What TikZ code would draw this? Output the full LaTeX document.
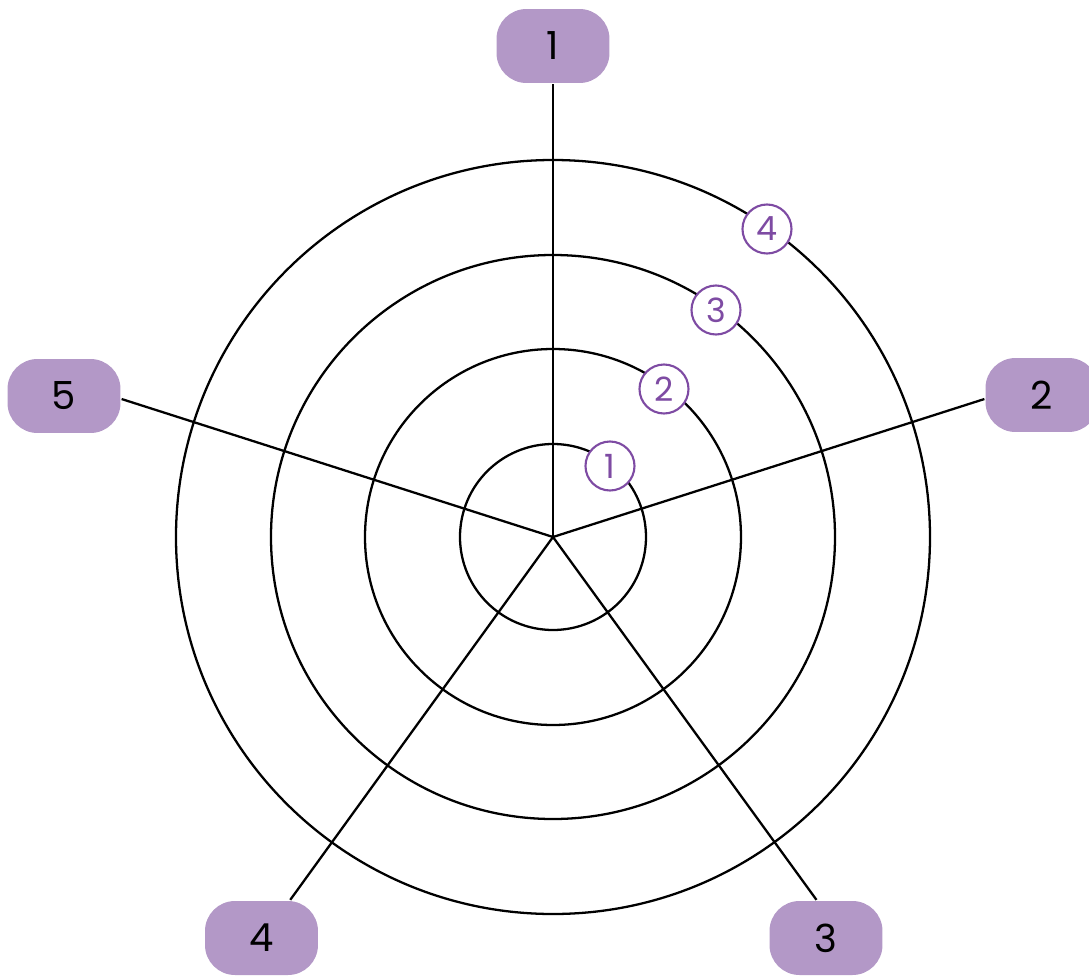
\documentclass[tikz,border=0pt]{standalone}
\usepackage{fontspec}
\setmainfont{Poppins}
\usetikzlibrary{positioning}
\definecolor{boxlilac}{HTML}{B398C7}
\definecolor{ringpurple}{HTML}{7E4BA3}
\tikzset{
  axislabel/.style={fill=boxlilac,rounded corners=0.6cm,minimum width=2.26cm,
    minimum height=1.48cm,inner sep=0pt,font=\fontsize{22}{26}\selectfont},
  levelmark/.style={circle,draw=ringpurple,fill=white,line width=1.2pt,
    minimum size=0.98cm,inner sep=0pt,text=ringpurple,
    font=\fontsize{19}{22}\selectfont}
}

\begin{document}
\begin{tikzpicture}[x=0.02cm,y=0.02cm,line width=1.3pt]
 \useasboundingbox (-553,-438) rectangle (536,537);
 \coordinate (o) at (0,0);
 % rings
 \foreach \r in {93,188,282,377}
    \draw (o) circle (\r);
 % axis labels
 \node[axislabel] (l1) at (0,491) {1};
 \node[axislabel] (l2) at (489,142) {2};
 \node[axislabel] (l3) at (273,-401) {3};
 \node[axislabel] (l4) at (-291.5,-401) {4};
 \node[axislabel] (l5) at (-489,141) {5};
 \draw (o) -- (l1.south);
 \draw (o) -- (l2.184);
 \draw (o) -- (l3.104);
 \draw (o) -- (l4.53);
 \draw (o) -- (l5.-3);
 % level marks
 \foreach \n/\x/\y in {1/57/71,2/111/148,3/163/227,4/214/308}
    \node[levelmark] (m\n) at (\x,\y) {\n};
\end{tikzpicture}
\end{document}
